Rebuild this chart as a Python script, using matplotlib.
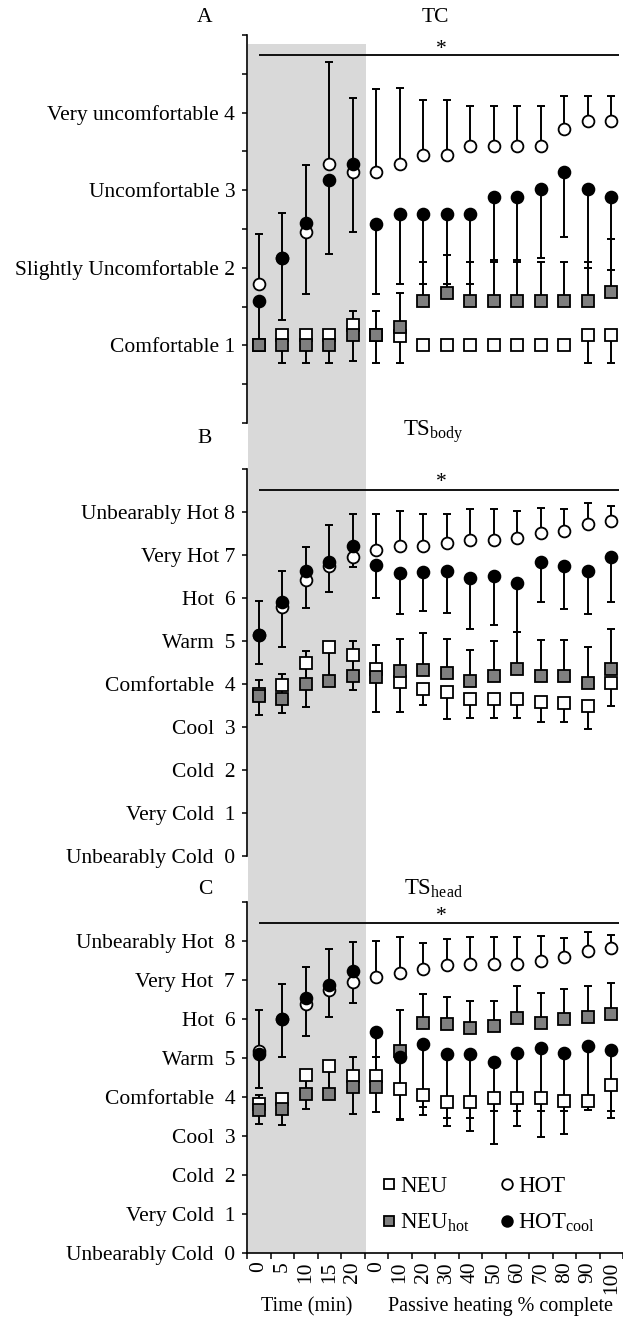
"""
Thermal comfort / thermal sensation ratings (TC, TS body, TS head)
"""
import matplotlib.pyplot as plt
import matplotlib.transforms as mtransforms
from matplotlib.patches import Rectangle
import numpy as np

plt.rcParams['font.family'] = ['Liberation Serif', 'DejaVu Serif']
plt.rcParams['mathtext.fontset'] = 'custom'
plt.rcParams['mathtext.rm'] = 'Liberation Serif'
plt.rcParams['mathtext.it'] = 'Liberation Serif:italic'

# eje x: 5 puntos de tiempo + 11 puntos de calentamiento pasivo
x_labels = ['0', '5', '10', '15', '20', '0', '10', '20', '30', '40',
            '50', '60', '70', '80', '90', '100']

# A: confort termico (TC)
tc_neu = [1.00, 1.14, 1.14, 1.14, 1.26, 1.13, 1.12, 1.01, 1.01, 1.01, 1.01, 1.01, 1.01, 1.01, 1.13, 1.13]
tc_neu_sd = [0.00, 0.37, 0.37, 0.37, 0.46, 0.36, 0.35, 0.00, 0.00, 0.00, 0.00, 0.00, 0.00, 0.00, 0.36, 0.36]
tc_neuhot = [1.01, 1.01, 1.01, 1.01, 1.13, 1.13, 1.24, 1.57, 1.68, 1.57, 1.57, 1.57, 1.57, 1.57, 1.57, 1.69]
tc_neuhot_sd = [0.00, 0.09, 0.09, 0.09, 0.31, 0.31, 0.43, 0.50, 0.49, 0.50, 0.50, 0.50, 0.50, 0.50, 0.50, 0.68]
tc_hot = [1.79, 2.13, 2.46, 3.34, 3.23, 3.23, 3.34, 3.45, 3.45, 3.57, 3.57, 3.57, 3.57, 3.79, 3.89, 3.89]
tc_hot_sd = [0.65, 0.58, 0.86, 1.31, 0.96, 1.08, 0.98, 0.71, 0.71, 0.52, 0.52, 0.52, 0.52, 0.43, 0.33, 0.33]
tc_hotcool = [1.57, 2.13, 2.58, 3.13, 3.34, 2.57, 2.69, 2.69, 2.69, 2.69, 2.91, 2.91, 3.02, 3.23, 3.02, 2.91]
tc_hotcool_sd = [0.55, 0.80, 0.92, 0.95, 0.88, 0.91, 0.90, 0.90, 0.90, 0.90, 0.81, 0.81, 0.89, 0.83, 1.02, 0.94]

# B: sensacion termica corporal (TS body)
tsb_neu = [3.78, 3.97, 4.49, 4.86, 4.68, 4.34, 4.05, 3.88, 3.82, 3.65, 3.65, 3.65, 3.58, 3.55, 3.48, 4.02]
tsb_neu_sd = [0.49, 0.64, 1.03, 0.76, 0.82, 0.99, 0.70, 0.37, 0.64, 0.43, 0.43, 0.43, 0.46, 0.43, 0.53, 0.54]
tsb_neuhot = [3.72, 3.65, 4.01, 4.07, 4.18, 4.16, 4.30, 4.33, 4.25, 4.08, 4.19, 4.35, 4.19, 4.19, 4.02, 4.35]
tsb_neuhot_sd = [0.37, 0.58, 0.75, 0.78, 0.81, 0.76, 0.75, 0.85, 0.80, 0.71, 0.81, 0.87, 0.83, 0.83, 0.85, 0.94]
tsb_hot = [5.15, 5.79, 6.42, 6.75, 6.96, 7.12, 7.22, 7.22, 7.29, 7.35, 7.35, 7.39, 7.52, 7.56, 7.72, 7.79]
tsb_hot_sd = [0.78, 0.85, 0.77, 0.95, 1.00, 0.84, 0.80, 0.74, 0.67, 0.71, 0.71, 0.63, 0.58, 0.50, 0.48, 0.35]
tsb_hotcool = [5.15, 5.92, 6.62, 6.85, 7.22, 6.78, 6.58, 6.60, 6.62, 6.46, 6.52, 6.35, 6.85, 6.74, 6.62, 6.95]
tsb_hotcool_sd = [0.68, 1.05, 0.85, 0.71, 0.50, 0.78, 0.94, 0.90, 0.96, 1.19, 1.15, 1.13, 0.94, 1.00, 0.98, 1.04]

# C: sensacion termica cabeza (TS head)
tsh_neu = [3.82, 3.95, 4.57, 4.80, 4.55, 4.55, 4.21, 4.04, 3.88, 3.88, 3.98, 3.98, 3.98, 3.91, 3.91, 4.32]
tsh_neu_sd = [0.51, 0.68, 0.87, 0.70, 0.98, 0.94, 0.77, 0.30, 0.41, 0.41, 0.33, 0.33, 0.33, 0.26, 0.24, 0.67]
tsh_neuhot = [3.67, 3.70, 4.09, 4.09, 4.27, 4.26, 5.19, 5.89, 5.88, 5.76, 5.81, 6.02, 5.91, 6.00, 6.04, 6.13]
tsh_neuhot_sd = [0.38, 0.25, 0.61, 0.66, 0.75, 0.76, 1.04, 0.75, 0.69, 0.69, 0.64, 0.83, 0.75, 0.78, 0.81, 0.80]
tsh_hot = [5.19, 6.01, 6.38, 6.75, 6.94, 7.09, 7.19, 7.28, 7.38, 7.40, 7.40, 7.40, 7.49, 7.60, 7.74, 7.83]
tsh_hot_sd = [1.04, 0.88, 0.96, 1.04, 1.03, 0.91, 0.92, 0.68, 0.66, 0.71, 0.71, 0.71, 0.65, 0.47, 0.49, 0.32]
tsh_hotcool = [5.10, 6.01, 6.55, 6.88, 7.22, 5.68, 5.02, 5.36, 5.10, 5.10, 4.91, 5.13, 5.25, 5.13, 5.31, 5.20]
tsh_hotcool_sd = [0.87, 0.99, 0.98, 0.82, 0.80, 1.13, 1.60, 1.82, 1.85, 1.96, 2.11, 1.88, 2.28, 2.08, 1.64, 1.73]

tc_scale = ['Comfortable', 'Slightly Uncomfortable', 'Uncomfortable', 'Very uncomfortable']
ts_scale = ['Unbearably Cold', 'Very Cold', 'Cold', 'Cool', 'Comfortable',
            'Warm', 'Hot', 'Very Hot', 'Unbearably Hot']

GRAY = '#7f7f7f'
SHADE = '#d9d9d9'
FS = 15.5

x = np.arange(len(x_labels))
fig = plt.figure(figsize=(6.23, 13.18), dpi=100)

left, width = 247 / 623, 376 / 623
ax_a = fig.add_axes([left, 0.6790, width, 0.2944])
ax_b = fig.add_axes([left, 0.3505, width, 0.2936])
ax_c = fig.add_axes([left, 0.0493, width, 0.2663])

# zona sombreada (fase de tiempo) comun a los tres paneles
trans = mtransforms.blended_transform_factory(ax_c.transData, fig.transFigure)
fig.add_artist(Rectangle((-0.45, 0.0493), 5.0, 0.9173, transform=trans,
                         facecolor=SHADE, edgecolor='none', zorder=-1))


def draw_series(ax, neu, neu_sd, neuhot, neuhot_sd, hot, hot_sd, hotcool, hotcool_sd):
    zeros = [0] * len(x)
    series = [
        (neu, [neu_sd, zeros], 's', 'white', 8, 'NEU'),
        (neuhot, [zeros, neuhot_sd], 's', GRAY, 8, r'NEU$_{\mathrm{hot}}$'),
        (hot, [zeros, hot_sd], 'o', 'white', 8.5, 'HOT'),
        (hotcool, [hotcool_sd, zeros], 'o', 'black', 8.5, r'HOT$_{\mathrm{cool}}$'),
    ]
    handles = []
    for k, (y, err, mk, fc, ms, lab) in enumerate(series):
        ax.errorbar(x, y, yerr=err, fmt='none', ecolor='black', elinewidth=1.4,
                    capsize=3.2, capthick=1.4, zorder=2)
        h, = ax.plot(x, y, ls='none', marker=mk, ms=ms, mfc=fc, mec='black',
                     mew=1.3, zorder=3 + k, label=lab)
        handles.append(h)
    return handles


def style_axis(ax, ymax, yticks, ylabels):
    ax.set_facecolor('none')
    ax.set_xlim(-0.5, 15.5)
    ax.set_ylim(0, ymax)
    for s in ['top', 'right', 'bottom']:
        ax.spines[s].set_visible(False)
    ax.spines['left'].set_linewidth(1.2)
    ax.set_yticks(yticks)
    ax.set_yticklabels(ylabels, fontsize=FS)
    ax.tick_params(axis='y', direction='out', length=3.5, width=1.1, pad=5)
    ax.set_xticks([])


draw_series(ax_a, tc_neu, tc_neu_sd, tc_neuhot, tc_neuhot_sd,
            tc_hot, tc_hot_sd, tc_hotcool, tc_hotcool_sd)
draw_series(ax_b, tsb_neu, tsb_neu_sd, tsb_neuhot, tsb_neuhot_sd,
            tsb_hot, tsb_hot_sd, tsb_hotcool, tsb_hotcool_sd)
handles = draw_series(ax_c, tsh_neu, tsh_neu_sd, tsh_neuhot, tsh_neuhot_sd,
                      tsh_hot, tsh_hot_sd, tsh_hotcool, tsh_hotcool_sd)

a_ticks = np.arange(0, 5.01, 0.5)
a_labels = ['' if (t % 1 or t == 0 or t == 5) else f'{tc_scale[int(t) - 1]} {int(t)}'
            for t in a_ticks]
style_axis(ax_a, 5, a_ticks, a_labels)

b_labels = [f'{ts_scale[i]}{" " if i >= 7 else "  "}{i}' for i in range(9)] + ['']
style_axis(ax_b, 9, np.arange(10), b_labels)
c_labels = [f'{ts_scale[i]}  {i}' for i in range(9)] + ['']
style_axis(ax_c, 9, np.arange(10), c_labels)

# eje x solo en el panel C
ax_c.spines['bottom'].set_visible(True)
ax_c.spines['bottom'].set_linewidth(1.2)
ax_c.set_xticks(x)
ax_c.set_xticklabels(x_labels, rotation=90, fontsize=FS)
ax_c.set_xticks(np.arange(-0.5, 15.6, 1), minor=True)
ax_c.tick_params(axis='x', which='major', length=0, pad=6)
ax_c.tick_params(axis='x', which='minor', direction='out', length=4, width=1.1)

# lineas de significancia
for ax, ysig, dy in [(ax_a, 4.74, -0.05), (ax_b, 8.51, -0.04), (ax_c, 8.46, -0.08)]:
    ax.hlines(ysig, 0, 15.35, color='black', lw=1.3)
    ax.text(7.75, ysig + dy, '*', ha='center', va='bottom', fontsize=FS)

# titulos y letras de panel
fig.text(205 / 623, 1 - 18 / 1318, 'A', ha='center', va='center', fontsize=FS)
fig.text(205 / 623, 1 - 438 / 1318, 'B', ha='center', va='center', fontsize=FS)
fig.text(205 / 623, 1 - 889 / 1318, 'C', ha='center', va='center', fontsize=FS)
fig.text(435 / 623, 1 - 17 / 1318, 'TC', ha='center', va='center', fontsize=FS)
fig.text(433 / 623, 1 - 432 / 1318, r'TS$_{\mathrm{body}}$', ha='center', va='center', fontsize=FS + 1)
fig.text(433 / 623, 1 - 889 / 1318, r'TS$_{\mathrm{head}}$', ha='center', va='center', fontsize=FS + 1)

fig.text(307 / 623, 1 - 1307 / 1318, 'Time (min)', ha='center', va='center', fontsize=14.5)
fig.text(500 / 623, 1 - 1307 / 1318, 'Passive heating % complete', ha='center', va='center', fontsize=14.5)

ax_c.legend(handles=handles, ncol=2, frameon=False, fontsize=FS + 1,
            loc='upper left', bbox_to_anchor=(0.335, 0.245), markerscale=0.9,
            handlelength=0.6, handletextpad=0.2, columnspacing=1.3,
            labelspacing=0.65, borderaxespad=0.0)

fig.savefig('out.png', dpi=100)
